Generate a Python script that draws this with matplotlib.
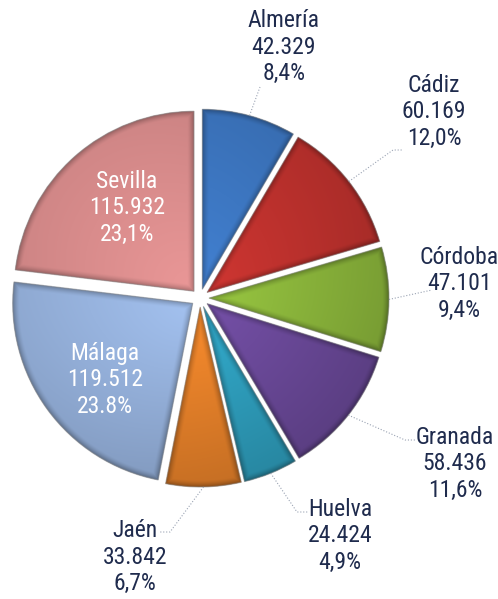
import numpy as np
import matplotlib
matplotlib.use("Agg")
import matplotlib.pyplot as plt
from matplotlib.patches import Wedge
from matplotlib.colors import to_rgb

# data
provinces = ["Almería", "Cádiz", "Córdoba", "Granada", "Huelva", "Jaén", "Málaga", "Sevilla"]
values = [42329, 60169, 47101, 58436, 24424, 33842, 119512, 115932]
value_labels = ["42.329", "60.169", "47.101", "58.436", "24.424", "33.842", "119.512", "115.932"]
pct_labels = ["8,4%", "12,0%", "9,4%", "11,6%", "4,9%", "6,7%", "23.8%", "23,1%"]

colors = ["#3d77c2", "#c0322e", "#8db83c", "#6c4a9b", "#2fa0bf", "#e8822a", "#97b3de", "#d98c8c"]

W, H = 498, 599
fig = plt.figure(figsize=(W / 100, H / 100), dpi=100)
ax = fig.add_axes([0, 0, 1, 1])

def iy(y):
    # image y (top-down) -> axes y
    return H - y

cx, cy, R = 200, iy(298), 180
# explode is in data units (pixels here)
wedges, _ = ax.pie(values, startangle=90, counterclock=False, center=(cx, cy), radius=R,
                   explode=[9] * len(values), colors=colors,
                   wedgeprops=dict(linewidth=0))

# shaded fill clipped to each wedge (bevel-ish look)
for w, col in zip(wedges, colors):
    wx, wy = w.center
    r = w.r
    t1, t2 = w.theta1, w.theta2
    x0, x1 = int(wx - r - 2), int(wx + r + 2)
    y0, y1 = int(wy - r - 2), int(wy + r + 2)
    X, Y = np.meshgrid(np.arange(x0, x1) + 0.5, np.arange(y0, y1) + 0.5)
    dx, dy = X - wx, Y - wy
    rr = np.hypot(dx, dy)
    phi = np.degrees(np.arctan2(dy, dx))
    a1 = np.mod(phi - t1, 360)
    a2 = np.mod(t2 - phi, 360)
    d_side1 = rr * np.sin(np.radians(np.clip(a1, 0, 90)))
    d_side2 = rr * np.sin(np.radians(np.clip(a2, 0, 90)))
    d_rim = r - rr
    d_b = np.minimum(np.minimum(d_side1, d_side2), d_rim)
    shade = 1.08 - 0.18 * (rr / r)
    # light from upper-left
    light = (-dx + dy) / (r * 1.414)
    shade += 0.06 * light
    bevel = np.clip(1 - d_b / 7.0, 0, 1)
    shade -= 0.28 * bevel ** 1.5
    base = np.array(to_rgb(col))
    img = np.clip(base[None, None, :] * shade[..., None], 0, 1)
    im = ax.imshow(img, extent=(x0, x1, y0, y1), origin="lower", interpolation="bilinear",
                   zorder=2)
    im.set_clip_path(w)
    ax.add_patch(Wedge((wx, wy), r, t1, t2, fill=False, edgecolor="#8a8a8a",
                       linewidth=0.8, alpha=0.6, zorder=3))
ax.set_xlim(0, W)
ax.set_ylim(0, H)
ax.set_aspect("auto")
ax.axis("off")

# labels
txt_color = "#1f2b4d"
font = ["Roboto Condensed", "Liberation Sans Narrow", "DejaVu Sans Condensed", "DejaVu Sans"]
label_pos = {
    "Almería": (284, 47), "Cádiz": (434, 112), "Córdoba": (459, 284),
    "Granada": (455, 464), "Huelva": (340, 536), "Jaén": (135, 557),
    "Málaga": (105, 380), "Sevilla": (127, 208),
}
inside = {"Málaga", "Sevilla"}
for name, v, p in zip(provinces, value_labels, pct_labels):
    x, y = label_pos[name]
    ax.text(x, iy(y), f"{name}\n{v}\n{p}", ha="center", va="center", fontsize=17,
            family=font, fontstretch="condensed", linespacing=1.22,
            color="white" if name in inside else txt_color, zorder=5)

# leader lines: rim point at wedge mid angle -> elbow -> label
elbows = {
    "Almería": [(260, 87)],
    "Cádiz": [(393, 150), (402, 150)],
    "Córdoba": [(432, 290)],
    "Granada": [(405, 440), (415, 440)],
    "Huelva": [(297, 512), (308, 512)],
    "Jaén": [(170, 532), (160, 532)],
}
for w, name in zip(wedges, provinces):
    if name not in elbows:
        continue
    mid = np.radians((w.theta1 + w.theta2) / 2)
    sx = w.center[0] + w.r * np.cos(mid)
    sy = w.center[1] + w.r * np.sin(mid)
    xs = [sx] + [p[0] for p in elbows[name]]
    ys = [sy] + [iy(p[1]) for p in elbows[name]]
    ax.plot(xs, ys, color="#9aa3b3", linewidth=0.8, linestyle=":", zorder=4)

fig.savefig("out.png", dpi=100, facecolor="white")
